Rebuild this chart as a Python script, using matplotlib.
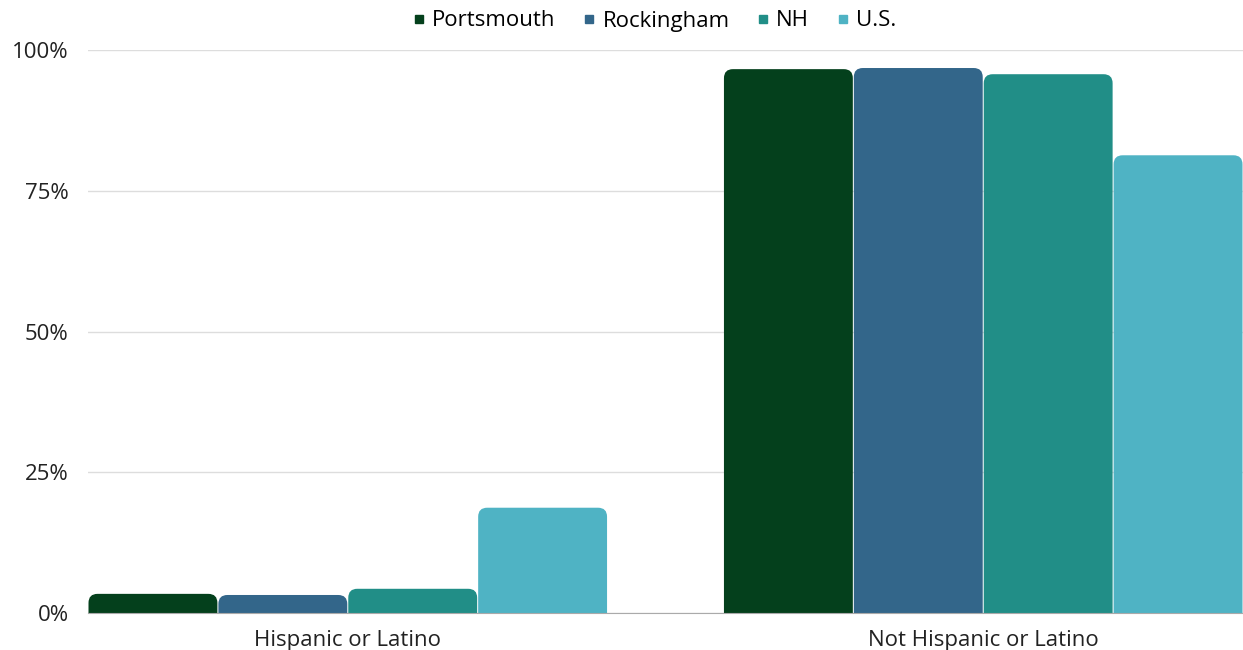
import matplotlib.pyplot as plt
from matplotlib.patches import FancyBboxPatch
from matplotlib.lines import Line2D

plt.rcParams['font.family'] = ['Open Sans', 'DejaVu Sans']

# data (percent)
categories = ['Hispanic or Latino', 'Not Hispanic or Latino']
series = ['Portsmouth', 'Rockingham', 'NH', 'U.S.']
values = {
    'Portsmouth': [3.4, 96.6],
    'Rockingham': [3.2, 96.8],
    'NH': [4.3, 95.7],
    'U.S.': [18.7, 81.3],
}
colors = ['#04401c', '#33668a', '#218e87', '#4fb3c4']
yticks = [0, 25, 50, 75, 100]
ytick_labels = ['0%', '25%', '50%', '75%', '100%']

fig = plt.figure(figsize=(12.43, 6.5), dpi=100)
ax = fig.add_axes([88 / 1243, 37 / 650, 1 - 88 / 1243, 563 / 650])

group_w = 520 / 636
bar_w = group_w / len(series)
xlim = (-group_w / 2, 1 + group_w / 2)
ax.set_xlim(*xlim)
ax.set_ylim(0, 100)

# rounding in pixels -> data units
px_x = (xlim[1] - xlim[0]) / 1155
px_y = 100 / 563
r_px = 9

for i, name in enumerate(series):
    xs = [c - group_w / 2 + bar_w * i for c in range(len(categories))]
    bars = ax.bar(xs, values[name], width=bar_w, align='edge', color=colors[i], alpha=0)
    for b in bars:
        x0, w, h = b.get_x(), b.get_width(), b.get_height()
        patch = FancyBboxPatch((x0 + px_x * 0.5, -r_px * px_y * 2), w - px_x, h + r_px * px_y * 2,
                               boxstyle='round,pad=0,rounding_size=%f' % (r_px * px_x),
                               mutation_aspect=px_y / px_x,
                               facecolor=colors[i], edgecolor='none', zorder=3)
        ax.add_patch(patch)

ax.set_yticks(yticks)
ax.set_yticklabels(ytick_labels, fontsize=16, color='#222222')
ax.set_xticks(range(len(categories)))
ax.set_xticklabels(categories, fontsize=16, color='#222222')
ax.tick_params(axis='both', length=0)
ax.tick_params(axis='y', pad=14)
ax.tick_params(axis='x', pad=12)
ax.grid(axis='y', color='#dddddd', linewidth=1, zorder=0)
ax.set_axisbelow(True)
for s in ['top', 'right', 'left']:
    ax.spines[s].set_visible(False)
ax.spines['bottom'].set_color('#aaaaaa')
ax.spines['bottom'].set_zorder(4)

handles = [Line2D([], [], marker='s', linestyle='none', markersize=6, color=c) for c in colors]
fig.legend(handles, series, loc='center', bbox_to_anchor=(652 / 1243, 1 - 21 / 650), ncol=4,
           frameon=False, fontsize=16, handletextpad=0.1, columnspacing=1.0, handlelength=1)

fig.savefig('out.png', dpi=100)
